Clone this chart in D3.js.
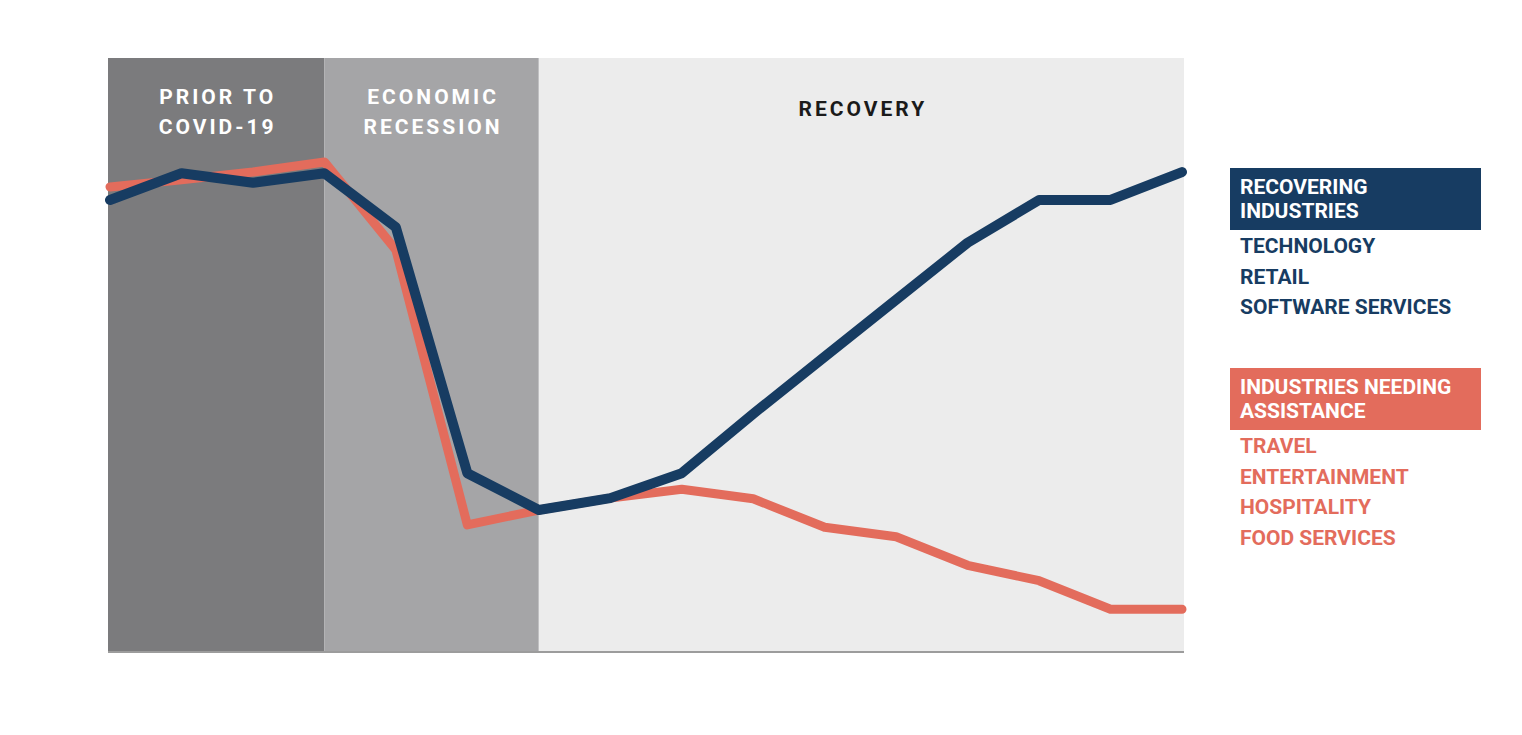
<!DOCTYPE html>
<html><head><meta charset="utf-8">
<script src="https://cdn.jsdelivr.net/npm/d3@7"></script>
<style>html,body{margin:0;padding:0;background:#fff;}svg{display:block;}</style>
</head><body>
<svg id="c" width="1522" height="735"></svg>
<script>
const periods = d3.range(1, 17).map(i => "T" + i);
const recovering = [76.1, 80.6, 79.0, 80.6, 71.5, 30.1, 23.9, 25.9, 30.1, 40.1, 49.7, 59.3, 68.9, 76.1, 76.1, 80.8];
const needing = [78.3, 79.5, 80.8, 82.5, 67.7, 21.4, 23.9, 25.9, 27.4, 25.8, 21.0, 19.4, 14.6, 12.0, 7.2, 7.2];
const phases = [
  {lines: ["PRIOR TO", "COVID-19"], from: 0, to: 3, fill: "#7b7b7d", color: "#ffffff"},
  {lines: ["ECONOMIC", "RECESSION"], from: 3, to: 6, fill: "#a5a5a7", color: "#ffffff"},
  {lines: ["RECOVERY"], from: 6, to: 15, fill: "#ececec", color: "#1a1a1a"}
];
const legendGroups = [
  {title: ["RECOVERING", "INDUSTRIES"], items: ["TECHNOLOGY", "RETAIL", "SOFTWARE SERVICES"], color: "#173c62"},
  {title: ["INDUSTRIES NEEDING", "ASSISTANCE"], items: ["TRAVEL", "ENTERTAINMENT", "HOSPITALITY", "FOOD SERVICES"], color: "#e36c5c"}
];

(function () {
const svg = d3.select("#c");
const mLeft = 108, mRight = 1184, mTop = 58, mBottom = 652;
const x = d3.scalePoint().domain(d3.range(periods.length)).range([110, 1182]);
const y = d3.scaleLinear().domain([0, 100]).range([mBottom, mTop]);
const font = "Roboto, 'Open Sans', sans-serif";

// bands
phases.forEach((p, i) => {
  const x0 = i === 0 ? mLeft : x(p.from), x1 = i === phases.length - 1 ? mRight : x(p.to);
  svg.append("rect").attr("x", x0).attr("y", mTop).attr("width", x1 - x0).attr("height", mBottom - mTop).attr("fill", p.fill);
  const cx = (x0 + x1) / 2;
  const t = svg.append("text").attr("text-anchor", "middle").attr("font-family", font)
    .attr("font-weight", 700).attr("font-size", 21).attr("letter-spacing", 3).attr("fill", p.color);
  if (p.lines.length === 2) {
    p.lines.forEach((l, j) => t.append("tspan").attr("x", cx + 1.5).attr("y", 104 + j * 30).text(l));
  } else {
    t.append("tspan").attr("x", cx + 1.5).attr("y", 116).text(p.lines[0]);
  }
});

// bottom axis line
svg.append("line").attr("x1", mLeft).attr("x2", mRight).attr("y1", mBottom).attr("y2", mBottom)
  .attr("stroke", "#9c9c9c").attr("stroke-width", 2);

const line = d3.line().x((d, i) => x(i)).y(d => y(d));
svg.append("path").datum(needing).attr("d", line).attr("fill", "none")
  .attr("stroke", "#e36c5c").attr("stroke-width", 9).attr("stroke-linejoin", "round").attr("stroke-linecap", "round");
svg.append("path").datum(recovering).attr("d", line).attr("fill", "none")
  .attr("stroke", "#173c62").attr("stroke-width", 10).attr("stroke-linejoin", "round").attr("stroke-linecap", "round");

// legend
const legTops = [168, 368];
legendGroups.forEach((g, gi) => {
  const ty = legTops[gi];
  svg.append("rect").attr("x", 1230).attr("y", ty).attr("width", 251).attr("height", 62).attr("fill", g.color);
  g.title.forEach((l, j) => svg.append("text").attr("x", 1240).attr("y", ty + 26 + j * 24)
    .attr("font-family", font).attr("font-weight", 700).attr("font-size", 21).attr("fill", "#ffffff")
    .text(l));
  g.items.forEach((l, j) => svg.append("text").attr("x", 1240).attr("y", ty + 85 + j * 30.5)
    .attr("font-family", font).attr("font-weight", 700).attr("font-size", 21).attr("fill", g.color)
    .text(l));
});
})();
</script>
</body></html>
